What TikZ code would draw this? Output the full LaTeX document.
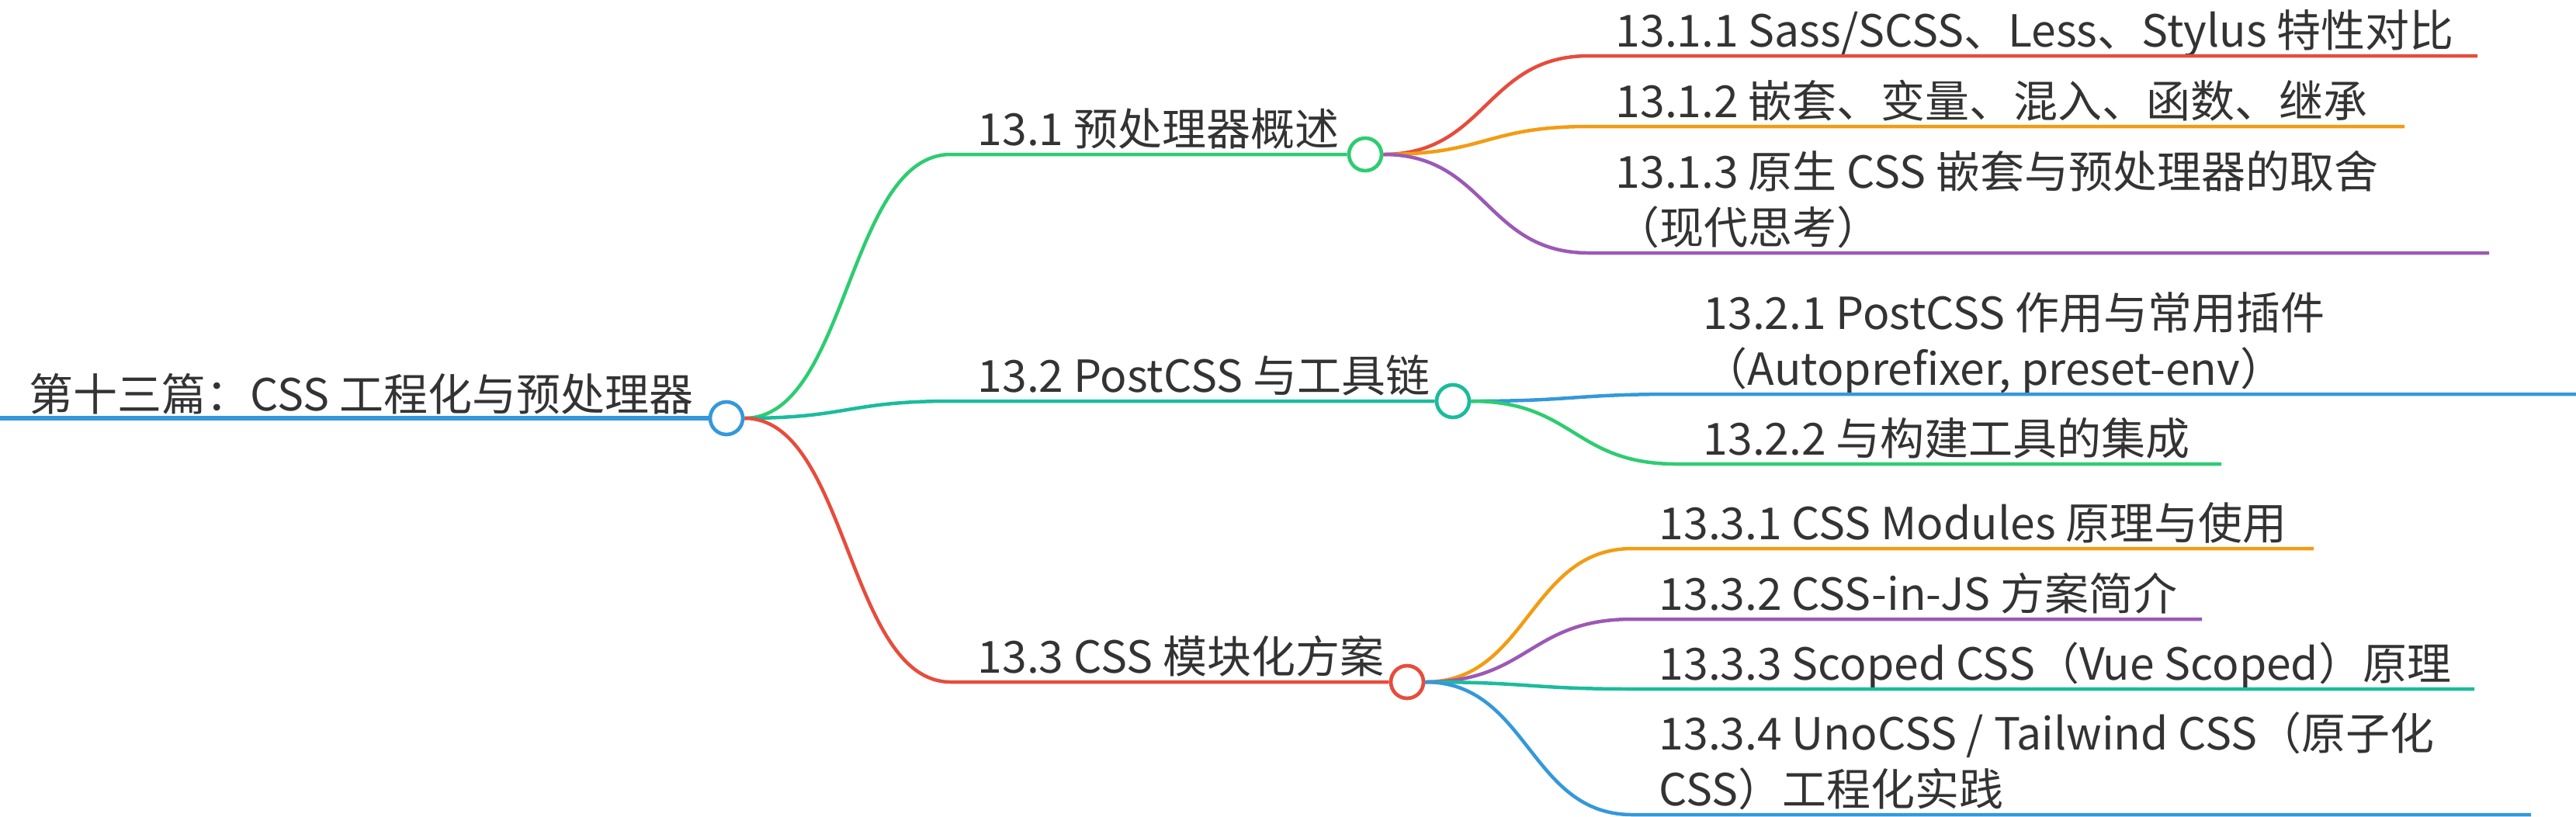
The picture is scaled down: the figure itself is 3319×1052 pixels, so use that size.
\documentclass[tikz,border=0pt]{standalone}
\usepackage{fontspec}
\setmainfont{Noto Sans CJK SC}
\usetikzlibrary{positioning}
\definecolor{mmblue}{HTML}{3498DB}
\definecolor{mmgreen}{HTML}{2ECC71}
\definecolor{mmteal}{HTML}{1ABC9C}
\definecolor{mmred}{HTML}{E74C3C}
\definecolor{mmorange}{HTML}{F39C12}
\definecolor{mmpurple}{HTML}{9B59B6}
\definecolor{mmtext}{HTML}{333333}

\begin{document}
\begin{tikzpicture}[x=0.25pt,y=-0.25pt,
    topic/.style={anchor=base west,inner sep=0pt,align=left,text=mmtext,
      font=\fontsize{14.25pt}{18pt}\selectfont},
    knob/.style={circle,draw=#1,fill=white,line width=1.17pt,minimum size=10.5pt,inner sep=0pt},
    branch/.style={draw=#1,line width=1.12pt}]
  \useasboundingbox (0,0) rectangle (3319,1052);
  % root
  \coordinate (s0) at (0,539);
  \node[knob=mmblue] (k0) at (936,539) {};
  \node[topic] (t0) at (37,529) {第十三篇：CSS 工程化与预处理器};
  \draw[branch=mmblue,line width=1.5pt] (s0) -- (k0.west);
  % chapters
  \foreach \nm/\yy/\kx/\col/\txt in {1/199/1759/mmgreen/{13.1 预处理器概述},
      2/517/1872/mmteal/{13.2 PostCSS 与工具链},3/879/1813/mmred/{13.3 CSS 模块化方案}}{
    \coordinate (s\nm) at (1225,\yy);
    \node[knob=\col] (k\nm) at (\kx,\yy) {};
    \node[topic] (t\nm) at (1259,\yy-12) {\txt};
    \draw[branch=\col] (k0.east) .. controls +(133,0) and +(-133,0) .. (s\nm) -- (k\nm.west);
  }
  % sections (base = last line)
  \foreach \pa/\nm/\sx/\yy/\ex/\col/\txt in {
      1/11/2047/72/3192/mmred/{13.1.1 Sass/SCSS、Less、Stylus 特性对比},
      1/12/2047/163/3098/mmorange/{13.1.2 嵌套、变量、混入、函数、继承},
      1/13/2047/326/3207/mmpurple/{13.1.3 原生 CSS 嵌套与预处理器的取舍\\（现代思考）},
      2/21/2160/508/3319/mmblue/{13.2.1 PostCSS 作用与常用插件\\（Autoprefixer, preset-env）},
      2/22/2160/598/2862/mmgreen/{13.2.2 与构建工具的集成},
      3/31/2103/707/2981/mmorange/{13.3.1 CSS Modules 原理与使用},
      3/32/2103/798/2837/mmpurple/{13.3.2 CSS-in-JS 方案简介},
      3/33/2103/888/3188/mmteal/{13.3.3 Scoped CSS（Vue Scoped）原理},
      3/34/2103/1050/3261/mmblue/{13.3.4 UnoCSS / Tailwind CSS（原子化\\CSS）工程化实践}}{
    \coordinate (s\nm) at (\sx,\yy);
    \coordinate (e\nm) at (\ex,\yy);
    \node[topic] (t\nm) at (\sx+34,\yy-12) {\txt};
    \draw[branch=\col] (k\pa.east) .. controls +(133,0) and +(-133,0) .. (s\nm) -- (e\nm);
  }
\end{tikzpicture}
\end{document}
